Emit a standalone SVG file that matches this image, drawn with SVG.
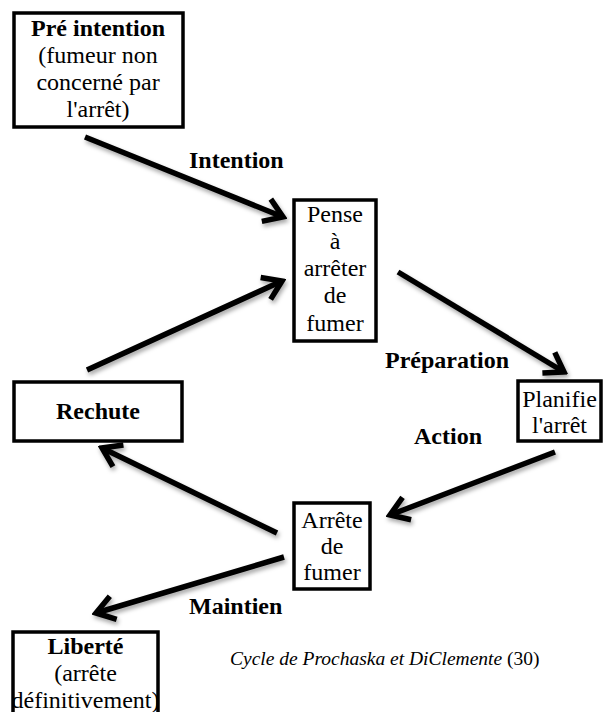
<svg xmlns="http://www.w3.org/2000/svg" width="603" height="712" viewBox="0 0 603 712">
<style>
  .box { fill: #fff; stroke: #000; stroke-width: 3.5; }
  .t { font-family: 'Liberation Serif', 'Times New Roman', serif; font-size: 24px; fill: #000; text-anchor: middle; }
  .b { font-weight: bold; }
  .lbl { font-family: 'Liberation Serif', 'Times New Roman', serif; font-size: 24px; font-weight: bold; fill: #000; }
  .cap { font-family: 'Liberation Serif', 'Times New Roman', serif; font-size: 19.5px; fill: #000; }
  .arrow { stroke: #000; stroke-width: 5.5; fill: none; marker-end: url(#head); }
</style>
<defs>
  <filter id="sh" x="-20%" y="-20%" width="140%" height="160%">
    <feDropShadow dx="1.5" dy="3" stdDeviation="2" flood-color="#000" flood-opacity="0.35"/>
  </filter>
  <marker id="head" markerUnits="userSpaceOnUse" viewBox="-24 -15 28 30" refX="0" refY="0" markerWidth="28" markerHeight="30" orient="auto">
    <path d="M -18,-12 L 0,0 L -18,12" fill="none" stroke="#000" stroke-width="5.5" stroke-linejoin="miter" stroke-linecap="butt"/>
  </marker>
</defs>

<g id="connectors" filter="url(#sh)">
  <line class="arrow" x1="85" y1="137" x2="283" y2="217"/>
  <line class="arrow" x1="87" y1="370" x2="282" y2="281"/>
  <line class="arrow" x1="398" y1="272" x2="564" y2="372"/>
  <line class="arrow" x1="555" y1="452" x2="390" y2="515"/>
  <line class="arrow" x1="277" y1="533" x2="102" y2="448"/>
  <line class="arrow" x1="284" y1="557" x2="96" y2="613"/>
</g>

<g id="labels">
  <text class="lbl" x="189" y="168">Intention</text>
  <text class="lbl" x="385" y="368">Préparation</text>
  <text class="lbl" x="414" y="444">Action</text>
  <text class="lbl" x="189" y="614">Maintien</text>
</g>

<g id="node-pre-intention">
  <rect class="box" x="14" y="13" width="169" height="114"/>
  <text class="t b" x="98" y="36">Pré intention</text>
  <text class="t" x="98" y="63">(fumeur non</text>
  <text class="t" x="98" y="90">concerné par</text>
  <text class="t" x="98" y="117">l'arrêt)</text>
</g>

<g id="node-pense">
  <rect class="box" x="294" y="200" width="82" height="141"/>
  <text class="t" x="335" y="222">Pense</text>
  <text class="t" x="335" y="249">à</text>
  <text class="t" x="335" y="276">arrêter</text>
  <text class="t" x="335" y="303">de</text>
  <text class="t" x="335" y="331">fumer</text>
</g>

<g id="node-planifie">
  <rect class="box" x="518" y="381" width="83" height="60"/>
  <text class="t" x="559.5" y="407">Planifie</text>
  <text class="t" x="559.5" y="433">l'arrêt</text>
</g>

<g id="node-rechute">
  <rect class="box" x="14" y="382" width="168" height="59"/>
  <text class="t b" x="98" y="419">Rechute</text>
</g>

<g id="node-arrete">
  <rect class="box" x="294" y="503" width="76" height="86"/>
  <text class="t" x="332" y="528">Arrête</text>
  <text class="t" x="332" y="554">de</text>
  <text class="t" x="332" y="580">fumer</text>
</g>

<g id="node-liberte">
  <rect class="box" x="13" y="632" width="145" height="100"/>
  <text class="t b" x="85.5" y="654">Liberté</text>
  <text class="t" x="85.5" y="681">(arrête</text>
  <text class="t" x="85.5" y="708">définitivement)</text>
</g>

<g id="caption">
  <text class="cap" x="230" y="665"><tspan font-style="italic">Cycle de Prochaska et DiClemente</tspan> (30)</text>
</g>
</svg>
